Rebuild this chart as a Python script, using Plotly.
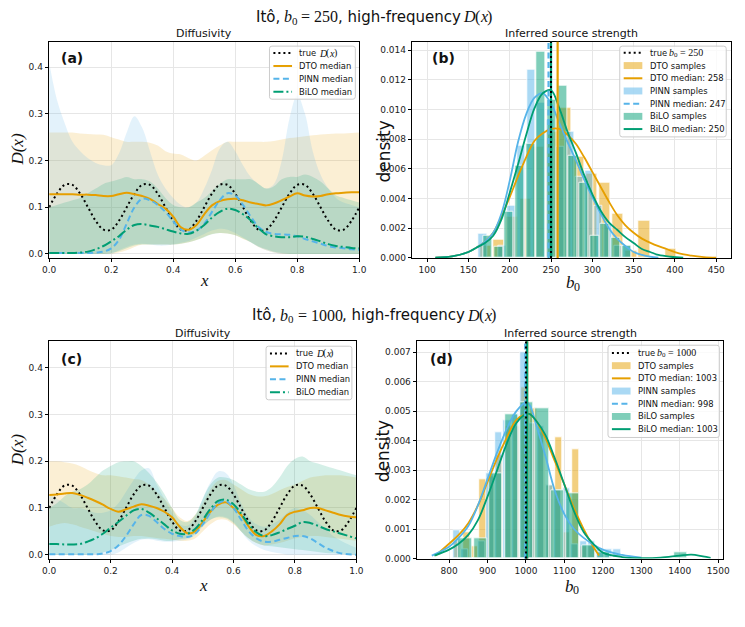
import plotly.graph_objects as go

W, H = 745, 627

# ---------------- data: diffusivity panels ----------------
X_GRID = [0.0, 0.025, 0.05, 0.075, 0.1, 0.125, 0.15, 0.175, 0.2, 0.225, 0.25, 0.275, 0.3, 0.325,
          0.35, 0.375, 0.4, 0.425, 0.45, 0.475, 0.5, 0.525, 0.55, 0.575, 0.6, 0.625, 0.65, 0.675,
          0.7, 0.725, 0.75, 0.775, 0.8, 0.825, 0.85, 0.875, 0.9, 0.925, 0.95, 0.975, 1.0]

TRUE_D = [0.100, 0.129, 0.148, 0.148, 0.129, 0.100, 0.071, 0.052, 0.052, 0.071,
          0.100, 0.129, 0.148, 0.148, 0.129, 0.100, 0.071, 0.052, 0.052, 0.071,
          0.100, 0.129, 0.148, 0.148, 0.129, 0.100, 0.071, 0.052, 0.052, 0.071,
          0.100, 0.129, 0.148, 0.148, 0.129, 0.100, 0.071, 0.052, 0.052, 0.071, 0.100]

# panel (a): b0 = 250
DTO_MED_A = [0.128, 0.128, 0.128, 0.128, 0.127, 0.127, 0.126, 0.124, 0.124, 0.128, 0.131, 0.128, 0.124, 0.118,
             0.107, 0.097, 0.080, 0.057, 0.052, 0.062, 0.085, 0.104, 0.113, 0.117, 0.118, 0.115, 0.110, 0.107,
             0.104, 0.108, 0.115, 0.123, 0.130, 0.125, 0.123, 0.124, 0.128, 0.130, 0.131, 0.132, 0.132]
PINN_MED_A = [0.002, 0.002, 0.002, 0.002, 0.002, 0.002, 0.003, 0.005, 0.012, 0.030, 0.065, 0.100, 0.118, 0.115,
              0.105, 0.090, 0.070, 0.052, 0.046, 0.050, 0.065, 0.090, 0.115, 0.130, 0.125, 0.105, 0.080, 0.058,
              0.047, 0.043, 0.042, 0.041, 0.038, 0.032, 0.027, 0.022, 0.017, 0.014, 0.012, 0.010, 0.009]
BILO_MED_A = [0.002, 0.002, 0.002, 0.002, 0.003, 0.005, 0.010, 0.017, 0.027, 0.038, 0.052, 0.062, 0.064, 0.061,
              0.058, 0.053, 0.048, 0.044, 0.043, 0.050, 0.062, 0.078, 0.090, 0.097, 0.094, 0.085, 0.072, 0.055,
              0.042, 0.038, 0.036, 0.036, 0.038, 0.037, 0.032, 0.027, 0.021, 0.017, 0.015, 0.013, 0.012]
DTO_LO_A = [0, 0, 0, 0, 0, 0, 0, 0, 0, 0.003, 0.008, 0.015, 0.020, 0.020, 0.020, 0.020, 0.020, 0.022, 0.025,
            0.030, 0.037, 0.043, 0.045, 0.044, 0.040, 0.032, 0.025, 0.015, 0.008, 0.003, 0, 0, 0, 0, 0, 0, 0,
            0, 0, 0, 0]
DTO_HI_A = [0.260, 0.260, 0.260, 0.260, 0.258, 0.257, 0.256, 0.255, 0.250, 0.245, 0.240, 0.240, 0.240, 0.238,
            0.232, 0.220, 0.215, 0.213, 0.205, 0.200, 0.210, 0.222, 0.232, 0.240, 0.240, 0.240, 0.240, 0.240,
            0.240, 0.242, 0.245, 0.248, 0.250, 0.252, 0.254, 0.256, 0.257, 0.258, 0.258, 0.259, 0.260]
PINN_LO_A = [0, 0, 0, 0, 0, 0, 0, 0, 0, 0.008, 0.015, 0.020, 0.022, 0.020, 0.018, 0.018, 0.020, 0.024, 0.028,
             0.035, 0.043, 0.050, 0.054, 0.052, 0.045, 0.035, 0.025, 0.015, 0.008, 0.003, 0, 0, 0, 0, 0, 0, 0,
             0, 0, 0, 0]
PINN_HI_A = [0.410, 0.330, 0.280, 0.240, 0.220, 0.205, 0.195, 0.190, 0.190, 0.215, 0.260, 0.295, 0.270, 0.220,
             0.170, 0.140, 0.120, 0.105, 0.100, 0.110, 0.140, 0.180, 0.225, 0.240, 0.220, 0.190, 0.165, 0.150,
             0.140, 0.150, 0.200, 0.290, 0.340, 0.300, 0.220, 0.170, 0.140, 0.120, 0.110, 0.105, 0.100]
BILO_LO_A = [0, 0, 0, 0, 0, 0, 0, 0, 0.002, 0.006, 0.012, 0.018, 0.020, 0.020, 0.020, 0.020, 0.020, 0.022, 0.025,
             0.030, 0.036, 0.042, 0.045, 0.044, 0.040, 0.033, 0.025, 0.016, 0.010, 0.005, 0.002, 0, 0, 0, 0, 0,
             0, 0, 0, 0, 0]
BILO_HI_A = [0.100, 0.105, 0.110, 0.115, 0.120, 0.130, 0.140, 0.150, 0.155, 0.160, 0.165, 0.160, 0.160, 0.155,
             0.140, 0.120, 0.105, 0.100, 0.100, 0.110, 0.120, 0.135, 0.150, 0.160, 0.160, 0.160, 0.160, 0.150,
             0.140, 0.145, 0.160, 0.165, 0.165, 0.170, 0.165, 0.155, 0.140, 0.125, 0.120, 0.115, 0.110]

# panel (c): b0 = 1000
DTO_MED_C = [0.128, 0.129, 0.131, 0.132, 0.128, 0.122, 0.115, 0.107, 0.098, 0.092, 0.097, 0.103, 0.108, 0.105,
             0.100, 0.092, 0.080, 0.060, 0.046, 0.050, 0.070, 0.092, 0.107, 0.112, 0.100, 0.085, 0.060, 0.042,
             0.040, 0.050, 0.065, 0.085, 0.092, 0.095, 0.100, 0.100, 0.095, 0.090, 0.085, 0.082, 0.080]
PINN_MED_C = [0.001, 0.001, 0.001, 0.001, 0.001, 0.001, 0.001, 0.003, 0.008, 0.020, 0.040, 0.065, 0.085, 0.083,
              0.070, 0.055, 0.045, 0.040, 0.038, 0.045, 0.065, 0.090, 0.110, 0.115, 0.100, 0.075, 0.050, 0.035,
              0.028, 0.028, 0.032, 0.036, 0.040, 0.040, 0.035, 0.025, 0.015, 0.008, 0.003, 0.001, 0.000]
BILO_MED_C = [0.023, 0.023, 0.022, 0.022, 0.023, 0.028, 0.035, 0.045, 0.058, 0.070, 0.083, 0.095, 0.098, 0.090,
              0.078, 0.065, 0.052, 0.045, 0.045, 0.055, 0.075, 0.098, 0.115, 0.118, 0.108, 0.088, 0.065, 0.048,
              0.040, 0.042, 0.048, 0.055, 0.062, 0.070, 0.068, 0.062, 0.055, 0.050, 0.045, 0.040, 0.035]
DTO_LO_C = [0.060, 0.065, 0.068, 0.065, 0.060, 0.055, 0.050, 0.045, 0.040, 0.038, 0.038, 0.040, 0.040, 0.038,
            0.036, 0.034, 0.032, 0.030, 0.030, 0.035, 0.050, 0.065, 0.075, 0.075, 0.065, 0.050, 0.035, 0.025,
            0.020, 0.022, 0.025, 0.030, 0.035, 0.038, 0.040, 0.040, 0.038, 0.036, 0.034, 0.032, 0.030]
DTO_HI_C = [0.200, 0.200, 0.198, 0.195, 0.190, 0.182, 0.175, 0.170, 0.170, 0.168, 0.165, 0.162, 0.160, 0.150,
            0.135, 0.120, 0.100, 0.080, 0.072, 0.085, 0.110, 0.140, 0.158, 0.160, 0.150, 0.140, 0.130, 0.125,
            0.125, 0.130, 0.138, 0.145, 0.150, 0.158, 0.165, 0.168, 0.170, 0.170, 0.170, 0.168, 0.165]
PINN_LO_C = [0, 0, 0, 0, 0, 0, 0, 0, 0, 0.005, 0.015, 0.025, 0.032, 0.033, 0.030, 0.028, 0.028, 0.030, 0.033,
             0.042, 0.060, 0.075, 0.082, 0.080, 0.070, 0.050, 0.030, 0.018, 0.010, 0.006, 0.003, 0, 0, 0, 0, 0,
             0, 0, 0, 0, 0]
PINN_HI_C = [0.130, 0.120, 0.110, 0.100, 0.100, 0.095, 0.090, 0.090, 0.095, 0.110, 0.135, 0.160, 0.180, 0.185,
             0.150, 0.120, 0.090, 0.065, 0.062, 0.080, 0.120, 0.155, 0.178, 0.175, 0.150, 0.110, 0.080, 0.065,
             0.060, 0.065, 0.075, 0.090, 0.100, 0.095, 0.085, 0.070, 0.055, 0.040, 0.030, 0.022, 0.015]
BILO_LO_C = [0, 0, 0, 0, 0, 0, 0.002, 0.005, 0.010, 0.017, 0.024, 0.030, 0.034, 0.035, 0.033, 0.030, 0.030,
             0.033, 0.036, 0.045, 0.062, 0.075, 0.080, 0.078, 0.068, 0.050, 0.035, 0.025, 0.020, 0.018, 0.016,
             0.014, 0.012, 0.010, 0.008, 0.006, 0.004, 0.003, 0.002, 0.001, 0]
BILO_HI_C = [0.100, 0.110, 0.125, 0.135, 0.140, 0.150, 0.165, 0.180, 0.190, 0.198, 0.200, 0.200, 0.190, 0.175,
             0.155, 0.130, 0.100, 0.075, 0.070, 0.085, 0.120, 0.150, 0.165, 0.165, 0.160, 0.150, 0.140, 0.135,
             0.135, 0.145, 0.165, 0.190, 0.205, 0.210, 0.200, 0.195, 0.190, 0.185, 0.180, 0.175, 0.170]

# ---------------- data: source strength panels ----------------
DTO_BIN_B = 16.0
DTO_EDGES_B = [163, 179, 195, 211, 227, 243, 259, 275, 291, 307, 323, 339, 355, 371, 387]
DTO_DENS_B = [0.0008, 0.0012, 0.0028, 0.0040, 0.0075, 0.0085, 0.0101, 0.0068, 0.0057, 0.0051, 0.0030,
              0.0005, 0.0025, 0.0, 0.0006]
PINN_BIN_B = 11.7
PINN_EDGES_B = [161.3, 173.0, 184.7, 196.4, 208.1, 219.8, 231.5, 243.2, 254.9, 266.6, 278.3, 290.0, 301.7,
                313.4, 325.1, 336.8]
PINN_DENS_B = [0.00165, 0.0, 0.0008, 0.0035, 0.0076, 0.0127, 0.0105, 0.0093, 0.0075, 0.0085, 0.0055, 0.0059,
               0.0035, 0.0023, 0.0008, 0.0008]
BILO_BIN_B = 12.9
BILO_EDGES_B = [167.0, 179.9, 192.8, 205.7, 218.6, 231.5, 244.4, 257.3, 270.2, 283.1, 296.0, 308.9, 321.8, 334.7]
BILO_DENS_B = [0.0015, 0.00077, 0.0031, 0.0062, 0.0077, 0.0139, 0.0107, 0.0116, 0.0069, 0.0051, 0.0015, 0.0023,
               0.0014, 0.0008]

DTO_KDE_X_B = [110, 130, 150, 160, 170, 180, 190, 200, 210, 220, 230, 240, 250, 260, 270, 280, 290, 300, 310,
               320, 330, 340, 350, 360, 375, 390, 405, 420, 435, 450]
DTO_KDE_Y_B = [0.00002, 0.0001, 0.0004, 0.0007, 0.0011, 0.0017, 0.0028, 0.0041, 0.0055, 0.0068, 0.0079, 0.0084,
               0.0087, 0.0087, 0.0083, 0.0077, 0.0068, 0.0058, 0.0048, 0.0038, 0.0029, 0.0022, 0.0017, 0.0013,
               0.0009, 0.0006, 0.0003, 0.00015, 0.00006, 0.00002]
PINN_KDE_X_B = [110, 130, 150, 160, 170, 180, 190, 200, 210, 220, 230, 240, 250, 260, 270, 280, 290, 300, 310,
                320, 330, 340, 350, 360, 370, 380]
PINN_KDE_Y_B = [0.00002, 0.0001, 0.0004, 0.0007, 0.0011, 0.0017, 0.0030, 0.0052, 0.0078, 0.0097, 0.0108,
                0.0111, 0.0104, 0.0091, 0.0078, 0.0066, 0.0053, 0.0041, 0.0030, 0.0020, 0.0013, 0.0008, 0.0004,
                0.0002, 0.00008, 0.00002]
BILO_KDE_X_B = [110, 130, 150, 160, 170, 180, 190, 200, 210, 220, 230, 240, 250, 260, 270, 280, 290, 300, 310,
                320, 330, 340, 350, 360, 370, 380, 395, 410]
BILO_KDE_Y_B = [0.00002, 0.0001, 0.0004, 0.0007, 0.0010, 0.0015, 0.0026, 0.0044, 0.0063, 0.0083, 0.0101,
                0.0111, 0.0113, 0.0101, 0.0085, 0.0071, 0.0056, 0.0043, 0.0032, 0.0024, 0.0019, 0.0014, 0.0010,
                0.0006, 0.0004, 0.0002, 0.00008, 0.00002]

DTO_BIN_D = 21.8
DTO_EDGES_D = [812.2, 834.0, 855.8, 877.6, 899.4, 921.2, 943.0, 964.8, 986.6, 1008.4, 1030.2, 1052.0, 1073.8,
               1095.6, 1117.4, 1139.2, 1161.0]
DTO_DENS_D = [0.0006, 0.0009, 0.0004, 0.0027, 0.0028, 0.0035, 0.0045, 0.0045, 0.0058, 0.0051, 0.0043, 0.0025,
              0.0041, 0.0009, 0.0037, 0.0004, 0.0004]
PINN_BIN_D = 22.0
PINN_EDGES_D = [808, 830, 852, 874, 896, 918, 940, 962, 984, 1006, 1028, 1050, 1072, 1094, 1116, 1138, 1160,
                1182, 1204, 1226]
PINN_DENS_D = [0.00095, 0.0003, 0.0, 0.0006, 0.0029, 0.0043, 0.0047, 0.0049, 0.0070, 0.0046, 0.0045, 0.0025,
               0.0023, 0.0024, 0.0005, 0.0006, 0.0006, 0.0003, 0.0003, 0.0003]
BILO_BIN_D = 40.0
BILO_EDGES_D = [822, 862, 902, 942, 982, 1022, 1062, 1102, 1142, 1182, 1222, 1262, 1302, 1342, 1382]
BILO_DENS_D = [0.0007, 0.0007, 0.0029, 0.0049, 0.0053, 0.0051, 0.0023, 0.0022, 0.00045, 0.00022, 0.0, 0.0, 0.0,
               0.0, 0.00022]

DTO_KDE_X_D = [765, 800, 825, 850, 875, 900, 925, 950, 975, 1000, 1010, 1025, 1050, 1075, 1100, 1125, 1150,
               1175, 1190]
DTO_KDE_Y_D = [0.0001, 0.0005, 0.0008, 0.0012, 0.0018, 0.0026, 0.0034, 0.0041, 0.0047, 0.0049, 0.0049, 0.0047,
               0.0041, 0.0033, 0.0025, 0.0017, 0.0010, 0.0004, 0.0001]
PINN_KDE_X_D = [755, 800, 825, 850, 875, 900, 925, 950, 975, 1000, 1010, 1025, 1050, 1075, 1100, 1125, 1150,
                1200, 1250, 1300]
PINN_KDE_Y_D = [0.0001, 0.0004, 0.0007, 0.0011, 0.0018, 0.0027, 0.0036, 0.0044, 0.0050, 0.0053, 0.0052,
                0.0046, 0.0035, 0.0023, 0.0015, 0.0010, 0.0007, 0.0003, 0.00012, 0.00003]
BILO_KDE_X_D = [762, 800, 825, 850, 875, 900, 925, 950, 975, 1000, 1010, 1025, 1050, 1075, 1100, 1125, 1150,
                1175, 1200, 1250, 1300, 1350, 1400, 1430, 1460, 1480]
BILO_KDE_Y_D = [0.0001, 0.0003, 0.0005, 0.0008, 0.0013, 0.0021, 0.0030, 0.0039, 0.0046, 0.0049, 0.0049,
                0.0047, 0.0042, 0.0034, 0.0025, 0.0016, 0.0009, 0.0005, 0.0002, 0.00005, 0.00001, 0.00003,
                0.0001, 0.00013, 0.00007, 0.00002]

TRUE_B0 = [250, 1000]
DTO_MEDIAN_B0 = [258, 1003]
PINN_MEDIAN_B0 = [247, 998]
BILO_MEDIAN_B0 = [250, 1003]

# ---------------- styling ----------------
ORANGE, BLUE, GREEN = "#E69F00", "#56B4E9", "#009E73"
BAND = {"DTO": "rgba(230,159,0,0.17)", "PINN": "rgba(86,180,233,0.17)", "BiLO": "rgba(0,158,115,0.17)"}
BARC = {"DTO": "rgba(230,159,0,0.5)", "PINN": "rgba(86,180,233,0.5)", "BiLO": "rgba(0,158,115,0.5)"}
COLS = {"DTO": ORANGE, "PINN": BLUE, "BiLO": GREEN}
SANS, SERIF = "DejaVu Sans", "Liberation Serif"
DOT, DASH, DASHDOT = "2px,3px", "6px,3.5px", "10px,3px,2px,3px"

# approximate glyph advance widths (em) used to lay out mixed-font text runs
SANS_W = {"I": .295, "t": .392, "ô": .612, ",": .318, " ": .318, "h": .634, "i": .278, "g": .635, "-": .361,
          "f": .352, "r": .411, "e": .615, "q": .635, "u": .634, "n": .634, "c": .55, "y": .592}
SERIF_W = {"b": .5, "D": .722, "x": .444, "(": .333, ")": .333, " ": .25, "=": .564, "0": .5, "1": .5,
           "2": .5, "5": .5}


def fx(p):
    return p / W


def fy(p):
    return 1 - p / H


fig = go.Figure()

DOM = {
    1: ((43, 359), (42, 260)),
    2: ((413, 738), (42, 260)),
    3: ((43, 356), (344, 563)),
    4: ((418, 730), (344, 563)),
}


def axname(i, a):
    return a if i == 1 else f"{a}{i}"


# ----- diffusivity panels -----
def diff_panel(i, meds, bands):
    xa, ya = axname(i, "x"), axname(i, "y")
    for (name, lo, hi) in bands:
        fig.add_trace(go.Scatter(x=X_GRID, y=lo, mode="lines", line=dict(width=0), hoverinfo="skip",
                                 xaxis=xa, yaxis=ya, line_shape="spline"))
        fig.add_trace(go.Scatter(x=X_GRID, y=hi, mode="lines", line=dict(width=0), fill="tonexty",
                                 fillcolor=BAND[name], hoverinfo="skip", xaxis=xa, yaxis=ya,
                                 line_shape="spline"))
    fig.add_trace(go.Scatter(x=X_GRID, y=TRUE_D, mode="lines", line=dict(color="black", width=2, dash=DOT),
                             line_shape="spline", xaxis=xa, yaxis=ya))
    styles = [("DTO", "solid"), ("PINN", DASH), ("BiLO", DASHDOT)]
    for (name, dash), y in zip(styles, meds):
        fig.add_trace(go.Scatter(x=X_GRID, y=y, mode="lines", line=dict(color=COLS[name], width=2, dash=dash),
                                 line_shape="spline", xaxis=xa, yaxis=ya))


diff_panel(1, [DTO_MED_A, PINN_MED_A, BILO_MED_A],
           [("DTO", DTO_LO_A, DTO_HI_A), ("PINN", PINN_LO_A, PINN_HI_A), ("BiLO", BILO_LO_A, BILO_HI_A)])
diff_panel(3, [DTO_MED_C, PINN_MED_C, BILO_MED_C],
           [("DTO", DTO_LO_C, DTO_HI_C), ("PINN", PINN_LO_C, PINN_HI_C), ("BiLO", BILO_LO_C, BILO_HI_C)])


# ----- source strength panels -----
def src_panel(i, k, hists, kdes):
    xa, ya = axname(i, "x"), axname(i, "y")
    names = ["DTO", "PINN", "BiLO"]
    meds = [DTO_MEDIAN_B0[k], PINN_MEDIAN_B0[k], BILO_MEDIAN_B0[k]]
    dashes = ["solid", DASH, "solid"]
    for j, name in enumerate(names):
        edges, dens, w = hists[j]
        fig.add_trace(go.Bar(x=[e + w / 2 for e in edges], y=dens, width=w * 0.86,
                             marker=dict(color=BARC[name], line=dict(color="white", width=0.8)),
                             xaxis=xa, yaxis=ya))
        kx, ky = kdes[j]
        fig.add_trace(go.Scatter(x=kx, y=ky, mode="lines", line=dict(color=COLS[name], width=1.8),
                                 line_shape="spline", xaxis=xa, yaxis=ya))
        fig.add_shape(type="line", xref=xa, yref=f"{ya} domain", x0=meds[j], x1=meds[j], y0=0, y1=1,
                      line=dict(color=COLS[name], width=2.2, dash=dashes[j]), layer="above")
    fig.add_shape(type="line", xref=xa, yref=f"{ya} domain", x0=TRUE_B0[k], x1=TRUE_B0[k], y0=0, y1=1,
                  line=dict(color="black", width=2, dash=DOT), layer="above")


src_panel(2, 0,
          [(DTO_EDGES_B, DTO_DENS_B, DTO_BIN_B), (PINN_EDGES_B, PINN_DENS_B, PINN_BIN_B),
           (BILO_EDGES_B, BILO_DENS_B, BILO_BIN_B)],
          [(DTO_KDE_X_B, DTO_KDE_Y_B), (PINN_KDE_X_B, PINN_KDE_Y_B), (BILO_KDE_X_B, BILO_KDE_Y_B)])
src_panel(4, 1,
          [(DTO_EDGES_D, DTO_DENS_D, DTO_BIN_D), (PINN_EDGES_D, PINN_DENS_D, PINN_BIN_D),
           (BILO_EDGES_D, BILO_DENS_D, BILO_BIN_D)],
          [(DTO_KDE_X_D, DTO_KDE_Y_D), (PINN_KDE_X_D, PINN_KDE_Y_D), (BILO_KDE_X_D, BILO_KDE_Y_D)])

# ----- axes -----
axis_common = dict(showline=True, linecolor="black", linewidth=1, mirror=True, ticks="outside",
                   ticklen=3.5, tickwidth=1, tickcolor="black", showgrid=True, gridcolor="#e6e6e6",
                   gridwidth=1, zeroline=False, tickfont=dict(size=9, color="#222"))

RANGES = {
    1: dict(x=[0, 1], y=[-0.0085, 0.4545], xt=0.2, yt=0.1, xf=".1f", yf=".1f"),
    2: dict(x=[82, 468], y=[0, 0.01458], xt=50, yt=0.002, xf="d", yf=".3f"),
    3: dict(x=[0, 1], y=[-0.008, 0.4565], xt=0.2, yt=0.1, xf=".1f", yf=".1f"),
    4: dict(x=[717, 1513], y=[0, 0.00737], xt=100, yt=0.001, xf="d", yf=".3f"),
}
for i, (xd, yd) in DOM.items():
    r = RANGES[i]
    xa_key = "xaxis" if i == 1 else f"xaxis{i}"
    ya_key = "yaxis" if i == 1 else f"yaxis{i}"
    fig.update_layout({
        xa_key: dict(axis_common, domain=[fx(xd[0]), fx(xd[1])], range=r["x"], dtick=r["xt"],
                     tickformat=r["xf"], anchor=axname(i, "y")),
        ya_key: dict(axis_common, domain=[fy(yd[1]), fy(yd[0])], range=r["y"], dtick=r["yt"],
                     tickformat=r["yf"], anchor=axname(i, "x")),
    })

# ----- text annotations & legend boxes -----
ann = []
shapes = list(fig.layout.shapes)


def text(x, y, s, size, angle=0, xanchor="center", yanchor="middle", color="#111", family=SANS,
         style="normal"):
    ann.append(dict(x=fx(x), y=fy(y), xref="paper", yref="paper", text=s, showarrow=False,
                    font=dict(size=size, color=color, family=family, style=style), textangle=angle,
                    xanchor=xanchor, yanchor=yanchor))


def run_width(s, family, size):
    table = SANS_W if family == SANS else SERIF_W
    return sum(table.get(ch, 0.6) for ch in s) * size


def rich(x, y, pieces, anchor="center"):
    """pieces: (string, family, size, italic, dy). Lays out a mixed-font run left to right."""
    total = sum(run_width(s, fam, sz) for s, fam, sz, _, _ in pieces)
    cur = x - total / 2 if anchor == "center" else x
    for s, fam, sz, it, dy in pieces:
        lead = len(s) - len(s.lstrip(" "))
        core = s.strip(" ")
        if core:
            text(cur + run_width(" " * lead, fam, sz), y + dy, core, sz, xanchor="left", family=fam,
                 style="italic" if it else "normal")
        cur += run_width(s, fam, sz)


def legend_box(x0, y0, x1, y1, first, step, items):
    r = 2.5
    path = (f"M {fx(x0 + r)} {fy(y0)} L {fx(x1 - r)} {fy(y0)} Q {fx(x1)} {fy(y0)} {fx(x1)} {fy(y0 + r)} "
            f"L {fx(x1)} {fy(y1 - r)} Q {fx(x1)} {fy(y1)} {fx(x1 - r)} {fy(y1)} "
            f"L {fx(x0 + r)} {fy(y1)} Q {fx(x0)} {fy(y1)} {fx(x0)} {fy(y1 - r)} "
            f"L {fx(x0)} {fy(y0 + r)} Q {fx(x0)} {fy(y0)} {fx(x0 + r)} {fy(y0)} Z")
    shapes.append(dict(type="path", xref="paper", yref="paper", path=path,
                       fillcolor="rgba(255,255,255,0.8)", line=dict(color="#cccccc", width=1), layer="above"))
    for n, (kind, col, dash, label) in enumerate(items):
        yc = first + n * step
        sx0, sx1 = x0 + 4, x0 + 23
        if kind == "line":
            shapes.append(dict(type="line", xref="paper", yref="paper", x0=fx(sx0), x1=fx(sx1),
                               y0=fy(yc), y1=fy(yc), line=dict(color=col, width=2, dash=dash), layer="above"))
        else:
            shapes.append(dict(type="rect", xref="paper", yref="paper", x0=fx(sx0), x1=fx(sx1),
                               y0=fy(yc - 3.5), y1=fy(yc + 3.5), fillcolor=col, line=dict(width=0),
                               layer="above"))
        if isinstance(label, list):
            rich(x0 + 28.5, yc, label, anchor="left")
        else:
            text(x0 + 28.5, yc, label, 8.4, xanchor="left")


LS, LM = 8.4, 10  # legend sans size, legend math size
DX_LEG = [("true ", SANS, LS, False, 0), ("D", SERIF, LM, True, 0), ("(", SERIF, LM, False, 0),
          ("x", SERIF, LM, True, 0), (")", SERIF, LM, False, 0)]
diff_items = [("line", "black", DOT, DX_LEG), ("line", ORANGE, "solid", "DTO median"),
              ("line", BLUE, DASH, "PINN median"), ("line", GREEN, DASHDOT, "BiLO median")]
legend_box(267.5, 46.5, 355, 100, 53.5, 13.0, diff_items)
legend_box(264, 349, 351.5, 403, 356.3, 13.0, diff_items)


def src_items(k):
    true_lab = [("true ", SANS, LS, False, 0), ("b", SERIF, LM, True, 0), ("0", SERIF, 7, False, 2.5),
                (f" = {TRUE_B0[k]}", SERIF, LM, False, 0)]
    return [("line", "black", DOT, true_lab),
            ("rect", BARC["DTO"], None, "DTO samples"),
            ("line", ORANGE, "solid", f"DTO median: {DTO_MEDIAN_B0[k]}"),
            ("rect", BARC["PINN"], None, "PINN samples"),
            ("line", BLUE, DASH, f"PINN median: {PINN_MEDIAN_B0[k]}"),
            ("rect", BARC["BiLO"], None, "BiLO samples"),
            ("line", GREEN, "solid", f"BiLO median: {BILO_MEDIAN_B0[k]}")]


legend_box(624.5, 46.5, 733, 138, 53.3, 12.8, src_items(0))
legend_box(612.5, 348, 726, 441, 355.8, 12.8, src_items(1))


def title_pieces(b0):
    return [("Itô, ", SANS, 15, False, 0), ("b", SERIF, 16, True, 0), ("0", SERIF, 11, False, 4),
            (f" = {b0}", SERIF, 16, False, 0), (", high-frequency ", SANS, 15, False, 0),
            ("D", SERIF, 16, True, 0), ("(", SERIF, 16, False, 0), ("x", SERIF, 16, True, 0),
            (")", SERIF, 16, False, 0)]


rich(372, 17, title_pieces(250))
rich(372, 318, title_pieces(1000))
text(201, 34, "Diffusivity", 11)
text(575, 34, "Inferred source strength", 11)
text(200, 336, "Diffusivity", 11)
text(574, 336, "Inferred source strength", 11)
text(53, 58, "<b>(a)</b>", 14, xanchor="left")
text(431, 58, "<b>(b)</b>", 14, xanchor="left")
text(53, 362, "<b>(c)</b>", 14, xanchor="left")
text(429, 362, "<b>(d)</b>", 14, xanchor="left")
text(11, 151, "D(x)", 17, angle=-90, family=SERIF, style="italic")
text(11, 454, "D(x)", 17, angle=-90, family=SERIF, style="italic")
text(384, 153, "density", 17, angle=-90)
text(384, 455, "density", 17, angle=-90)
text(201, 283, "x", 17, family=SERIF, style="italic")
text(200, 590, "x", 17, family=SERIF, style="italic")
B0_AX = [("b", SERIF, 17, True, 0), ("0", SERIF, 12, False, 4)]
rich(575, 285, B0_AX)
rich(574, 591, B0_AX)

fig.update_layout(
    annotations=ann, shapes=shapes,
    width=W, height=H, margin=dict(l=0, r=0, t=0, b=0),
    paper_bgcolor="white", plot_bgcolor="white",
    font=dict(family=SANS, color="#111"),
    barmode="overlay", bargap=0,
    showlegend=False,
)

fig.write_html("out.html")
